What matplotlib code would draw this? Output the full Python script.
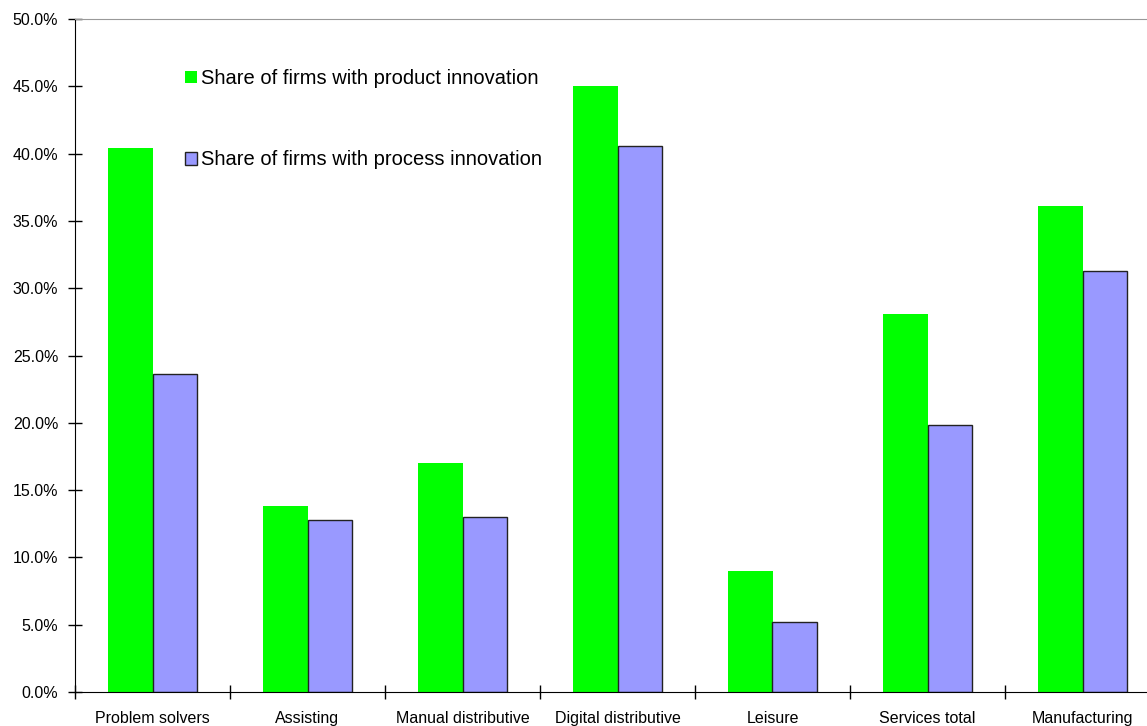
import matplotlib
matplotlib.use("Agg")
import matplotlib.pyplot as plt
import numpy as np
from matplotlib.ticker import FuncFormatter

plt.rcParams['font.family'] = ['Liberation Sans', 'DejaVu Sans']

# Values (percent)
categories = ['Problem solvers', 'Assisting', 'Manual distributive', 'Digital distributive',
              'Leisure', 'Services total', 'Manufacturing']
product_innovation = [40.4, 13.8, 17.0, 45.0, 9.0, 28.1, 36.1]
process_innovation = [23.6, 12.8, 13.0, 40.6, 5.2, 19.8, 31.3]

W, H = 1147, 726
fig = plt.figure(figsize=(W / 100, H / 100), dpi=100)
# axes runs a little past the right edge of the figure, like the original
ax = fig.add_axes([75 / W, 34 / H, 1085 / W, 673 / H])

x = np.arange(len(categories))
bw = 0.29
ax.bar(x - bw / 2, product_innovation, bw, color='#00ff00', edgecolor='none',
       label='Share of firms with product innovation')
ax.bar(x + bw / 2, process_innovation, bw, color='#9999ff', edgecolor='#222222', linewidth=1,
       label='Share of firms with process innovation')

ax.set_xlim(-0.5, len(categories) - 0.5)
ax.set_ylim(0, 50)
ax.set_yticks(np.arange(0, 50.1, 5))
ax.yaxis.set_major_formatter(FuncFormatter(lambda v, p: f'{v:.1f}%'))

# category ticks between groups, labels centred under groups
ax.set_xticks(np.arange(-0.5, len(categories), 1))
ax.set_xticklabels([])
ax.set_xticks(x, minor=True)
ax.set_xticklabels(categories, minor=True, fontsize=11.5)
ax.tick_params(axis='x', which='minor', length=0, pad=14)
ax.tick_params(axis='x', which='major', direction='inout', length=10, width=1)
ax.tick_params(axis='y', direction='inout', length=10, width=1, labelsize=11.5, pad=7)

ax.spines['right'].set_visible(False)
ax.spines['top'].set_color('#999999')
ax.spines['left'].set_color('black')
ax.spines['bottom'].set_color('black')

ax.legend(loc='upper left', bbox_to_anchor=(185 / W, 1 - 69 / H), bbox_transform=fig.transFigure,
          frameon=False, fontsize=14.5, labelspacing=3.1, handlelength=0.6, handleheight=0.6,
          handletextpad=0.2, borderpad=0, borderaxespad=0)

fig.savefig('out.png', dpi=100, facecolor='white')
